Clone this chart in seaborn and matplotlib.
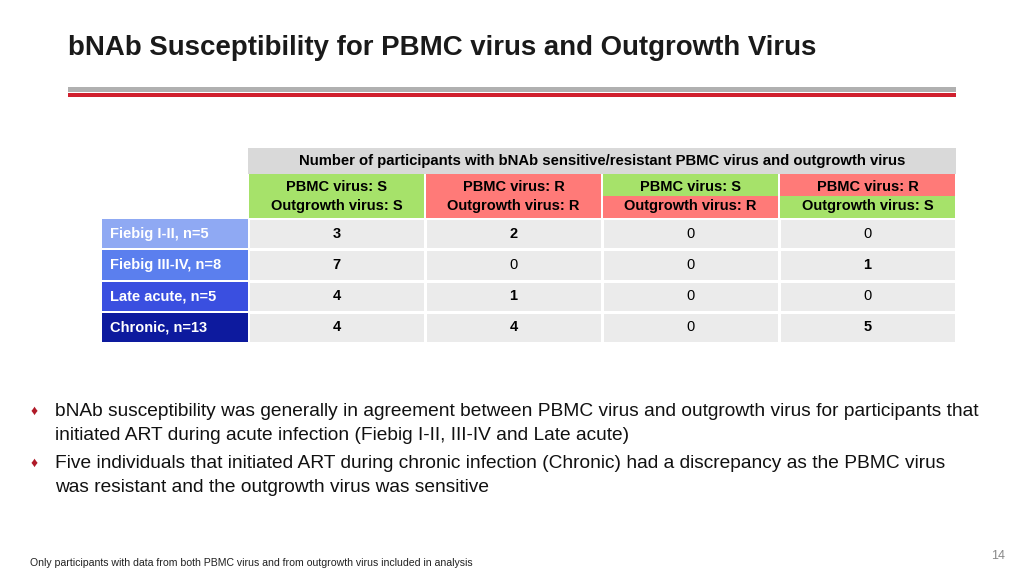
import matplotlib
matplotlib.use("Agg")
import matplotlib.pyplot as plt
import seaborn as sns
import numpy as np
import pandas as pd
from matplotlib.colors import ListedColormap
from matplotlib.patches import Rectangle

plt.rcParams["font.family"] = "Liberation Sans"

groups = ["Fiebig I-II, n=5", "Fiebig III-IV, n=8", "Late acute, n=5", "Chronic, n=13"]
columns = ["PBMC virus: S\nOutgrowth virus: S", "PBMC virus: R\nOutgrowth virus: R",
           "PBMC virus: S\nOutgrowth virus: R", "PBMC virus: R\nOutgrowth virus: S"]
ss = [3, 7, 4, 4]
rr = [2, 0, 1, 4]
sr = [0, 0, 0, 0]
rs = [0, 1, 0, 5]

df = pd.DataFrame({columns[0]: ss, columns[1]: rr, columns[2]: sr, columns[3]: rs}, index=groups)

W, H = 1024, 576
fig = plt.figure(figsize=(W/100, H/100), dpi=100)
ov = fig.add_axes([0, 0, 1, 1])
ov.set_xlim(0, W); ov.set_ylim(H, 0); ov.axis("off")

# title and rules
ov.text(68, 48, "bNAb Susceptibility for PBMC virus and Outgrowth Virus", fontsize=19.9,
        fontweight="bold", color="#1a1a1a", va="center")
ov.add_patch(Rectangle((68, 87), 888, 5, color="#b0b0b0", lw=0))
ov.add_patch(Rectangle((68, 93), 888, 4, color="#d0202e", lw=0))

# body heatmap
x0, x1, y0, y1 = 248, 956, 218, 343
hax = fig.add_axes([x0/W, 1 - y1/H, (x1-x0)/W, (y1-y0)/H])
sns.heatmap(df, ax=hax, cmap=ListedColormap(["#ebebeb"]), cbar=False, linewidths=2,
            linecolor="white", xticklabels=False, yticklabels=False)
for i in range(df.shape[0]):
    for j in range(df.shape[1]):
        v = df.iat[i, j]
        hax.text(j + 0.5, i + 0.5, str(v), ha="center", va="center", fontsize=10.5,
                 fontweight="bold" if v else "normal", color="black")
hax.set_xlabel(""); hax.set_ylabel("")

# header
ov.add_patch(Rectangle((x0, 148), x1-x0, 26, color="#d9d9d9", lw=0))
ov.text((x0+x1)/2, 161, "Number of participants with bNAb sensitive/resistant PBMC virus and outgrowth virus",
        ha="center", va="center", fontsize=10.7, fontweight="bold")
green, red = "#a6e26a", "#ff7a78"
cw = (x1-x0)/4
tops = [green, red, green, red]
bots = [green, red, red, green]
for j, c in enumerate(columns):
    cx = x0 + j*cw
    ov.add_patch(Rectangle((cx+1, 174), cw-2, 22, color=tops[j], lw=0))
    ov.add_patch(Rectangle((cx+1, 196), cw-2, 22, color=bots[j], lw=0))
    l1, l2 = c.split("\n")
    ov.text(cx+cw/2, 187, l1, ha="center", va="center", fontsize=10.5, fontweight="bold")
    ov.text(cx+cw/2, 206, l2, ha="center", va="center", fontsize=10.5, fontweight="bold")

# row labels
rc = ["#8fa9f3", "#5b7fee", "#3a4fe0", "#0d1a9e"]
rh = (y1-y0)/4
for i, g in enumerate(groups):
    ry = y0 + i*rh
    ov.add_patch(Rectangle((102, ry+1), 146, rh-2, color=rc[i], lw=0))
    ov.text(110, ry+rh/2, g, va="center", fontsize=10.5, fontweight="bold", color="white")

# bullets
bl = [("bNAb susceptibility was generally in agreement between PBMC virus and outgrowth virus for participants that",
       "initiated ART during acute infection (Fiebig I-II, III-IV and Late acute)"),
      ("Five individuals that initiated ART during chronic infection (Chronic) had a discrepancy as the PBMC virus",
       "was resistant and the outgrowth virus was sensitive")]
for k, (a, b) in enumerate(bl):
    y = 411 + k*52
    ov.text(31, y, "\u2666", fontsize=10, color="#b01a28", va="center")
    ov.text(55, y, a, fontsize=13.8, va="center", color="#111111")
    ov.text(55, y+24, b, fontsize=13.8, va="center", color="#111111")

ov.text(30, 563, "Only participants with data from both PBMC virus and from outgrowth virus included in analysis",
        fontsize=7.6, va="center", color="#222222")
ov.text(1005, 556, "14", fontsize=9, va="center", ha="right", color="#888888")

fig.savefig("out.png", dpi=100)
